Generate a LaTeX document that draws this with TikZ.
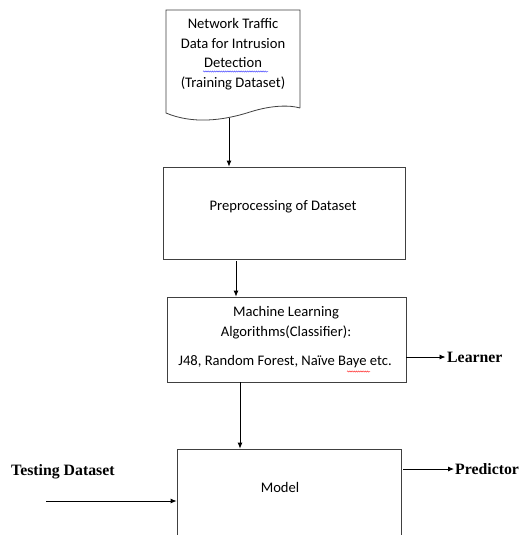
\documentclass[tikz,border=0pt]{standalone}
\usepackage{fontspec}
\setmainfont{Carlito}
\newfontfamily\labelfont{Liberation Serif}
\usetikzlibrary{arrows.meta,decorations.pathmorphing}
\tikzset{
  boxline/.style={draw=black!75,line width=0.8pt},
  blockbox/.style={boxline,inner sep=0pt},
  boxtext/.style={font=\fontsize{14.6}{19.5}\selectfont,align=center,inner sep=0pt},
  sidelabel/.style={font=\labelfont\fontsize{15.8}{17}\selectfont\bfseries,inner sep=0pt},
  flow/.style={draw=black,line width=0.8pt,-{Latex[length=6pt,width=5pt]}},
  squiggle/.style={line width=0.5pt,decorate,decoration={snake,segment length=2.2pt,amplitude=0.6pt}}
}
\begin{document}
\begin{tikzpicture}[x=1pt,y=-1pt]
\clip (0,0) rectangle (520,535);
\fill[white] (0,0) rectangle (520,535);

% input document (wavy lower edge)
\coordinate (docout) at (229,118);
\draw[boxline] (300,108) -- (300,10) -- (166,10) -- (166,113)
  .. controls (192,124) and (222,121) .. (250,112)
  .. controls (272,105) and (290,105) .. (300,108);
\node[boxtext] (doc) at (233,54) {Network Traffic\\Data for Intrusion\\Detection\\(Training Dataset)};
\draw[squiggle,blue!70] (203,71.5) -- (268,71.5);

% preprocessing block
\node[blockbox,minimum width=242pt,minimum height=92pt] (pre) at (284,213) {};
\node[boxtext] (pretext) at (283,207) {Preprocessing of Dataset};

% learning block
\node[blockbox,minimum width=239pt,minimum height=85pt] (ml) at (286.5,339.5) {};
\node[boxtext] (mltitle) at (286,322.5) {Machine Learning\\Algorithms(Classifier):};
\node[boxtext] (mlalgos) at (285,362) {J48, Random Forest, Na\"ive Baye etc.};
\draw[squiggle,red!80] (347,371.5) -- (370,371.5);

% model block (continues past the lower edge)
\node[blockbox,minimum width=224pt,minimum height=140pt] (model) at (289,519) {};
\node[boxtext] (modeltext) at (280,487) {Model};

% side labels
\node[sidelabel,anchor=west] (learner) at (447,357) {Learner};
\node[sidelabel,anchor=west] (pred) at (455,469) {Predictor};
\node[sidelabel,anchor=west] (test) at (11,472) {Testing Dataset};
\coordinate (testin) at (46,501);

% connectors
\draw[flow] (docout) -- (docout |- pre.north);
\draw[flow] ([xshift=-48pt,yshift=-2pt]pre.south) -- ([xshift=-50.5pt]ml.north);
\draw[flow] ([xshift=-46.5pt]ml.south) -- ([xshift=-49pt]model.north);
\draw[flow] (ml.east |- learner.west) -- ([xshift=-1.5pt]learner.west);
\draw[flow] ([xshift=2pt]model.east |- pred.west) -- ([xshift=-1pt]pred.west);
\draw[flow] (testin) -- (testin -| model.west);
\end{tikzpicture}
\end{document}
